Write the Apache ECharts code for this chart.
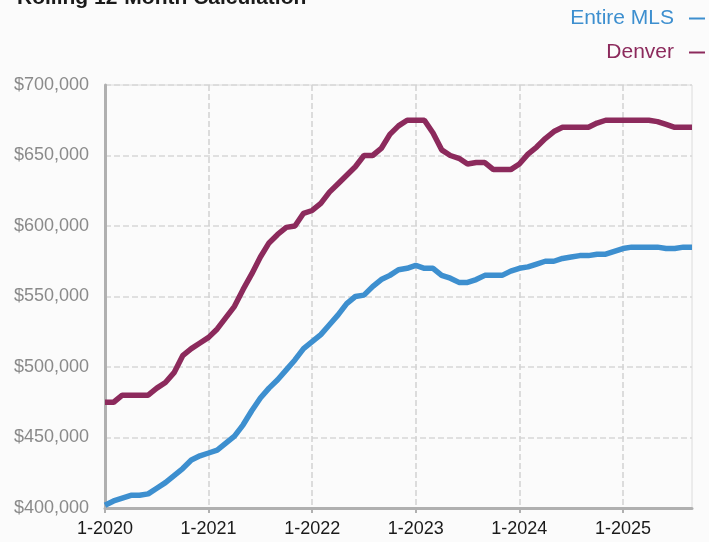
<!DOCTYPE html>
<html>
<head>
<meta charset="utf-8">
<script src="https://cdn.jsdelivr.net/npm/echarts@6/dist/echarts.min.js"></script>
<style>
  html, body { margin: 0; padding: 0; background: #fbfbfb; }
  #chart { width: 709px; height: 542px; }
</style>
</head>
<body>
<div id="chart"></div>
<script>
// months Jan 2020 .. Sep 2025, label shown only on January
var years = [2020, 2021, 2022, 2023, 2024, 2025];
var months = [];
for (var y = 0; y < years.length; y++) {
  for (var m = 1; m <= 12; m++) {
    if (years[y] === 2025 && m > 9) break;
    months.push(m + '-' + years[y]);
  }
}

// rolling 12-month median price, thousands of dollars
var entireMLS = [
  402, 405, 407, 409, 409, 410, 414, 418, 423, 428, 434, 437,
  439, 441, 446, 451, 459, 469, 478, 485, 491, 498, 505, 513,
  518, 523, 530, 537, 545, 550, 551, 557, 562, 565, 569, 570,
  572, 570, 570, 565, 563, 560, 560, 562, 565, 565, 565, 568,
  570, 571, 573, 575, 575, 577, 578, 579, 579, 580, 580, 582,
  584, 585, 585, 585, 585, 584, 584, 585, 585
];
var denver = [
  475, 475, 480, 480, 480, 480, 485, 489, 496, 508, 513, 517,
  521, 527, 535, 543, 555, 566, 578, 588, 594, 599, 600, 609,
  611, 616, 624, 630, 636, 642, 650, 650, 655, 665, 671, 675,
  675, 675, 666, 654, 650, 648, 644, 645, 645, 640, 640, 640,
  644, 651, 656, 662, 667, 670, 670, 670, 670, 673, 675, 675,
  675, 675, 675, 675, 674, 672, 670, 670, 670
];

var blue = '#3d8fcf';
var maroon = '#8c2a5c';

var chart = echarts.init(document.getElementById('chart'));

function money(v) {
  return '$' + String(v).replace(/\B(?=(\d{3})+(?!\d))/g, ',');
}

var option = {
  backgroundColor: '#fbfbfb',
  animation: false,
  title: {
    text: 'Rolling 12-Month Calculation',
    left: 12,
    top: -17,
    textStyle: { fontFamily: 'Liberation Sans', fontWeight: 'bold', fontSize: 21, color: '#1a1a1a' }
  },
  legend: [
    {
      data: [{ name: 'Entire MLS', textStyle: { color: blue } }],
      right: -1, top: 3, align: 'right',
      icon: 'rect', itemWidth: 16, itemHeight: 2, itemGap: 0,
      textStyle: { fontFamily: 'Liberation Sans', fontSize: 21, padding: [0, 10, 0, 0] }
    },
    {
      data: [{ name: 'Denver', textStyle: { color: maroon } }],
      right: -1, top: 37, align: 'right',
      icon: 'rect', itemWidth: 16, itemHeight: 2, itemGap: 0,
      textStyle: { fontFamily: 'Liberation Sans', fontSize: 21, padding: [0, 10, 0, 0] }
    }
  ],
  grid: {
    left: 105, right: 17, top: 85, bottom: 34,
    show: true, borderColor: '#dcdcdc', borderWidth: 1
  },
  xAxis: {
    type: 'category',
    data: months,
    boundaryGap: false,
    axisLine: { lineStyle: { color: '#b0b0b0', width: 3 } },
    axisTick: {
      length: 5,
      interval: function (i) { return i % 12 === 0; },
      lineStyle: { color: '#b0b0b0', width: 2 }
    },
    axisLabel: {
      interval: function (i) { return i % 12 === 0; },
      formatter: function (v) { return v.indexOf('1-') === 0 && v.length === 6 ? v : ''; },
      color: '#1a1a1a', fontFamily: 'Liberation Sans', fontSize: 18, margin: 12
    },
    splitLine: {
      show: true,
      interval: function (i) { return i % 12 === 0 && i > 0; },
      lineStyle: { color: '#d2d2d2', type: 'dashed', width: 1.5 }
    }
  },
  yAxis: {
    type: 'value',
    min: 400, max: 700, interval: 50,
    axisLine: { show: true, lineStyle: { color: '#b0b0b0', width: 3 } },
    axisTick: { show: false },
    axisLabel: {
      formatter: function (v) { return money(v * 1000); },
      color: '#8a8a8a', fontFamily: 'Liberation Sans', fontSize: 18, margin: 16
    },
    splitLine: { lineStyle: { color: '#d8d8d8', type: 'dashed', width: 1.5 } }
  },
  series: [
    {
      name: 'Entire MLS', type: 'line', data: entireMLS,
      symbol: 'none', color: blue,
      lineStyle: { width: 5.5, color: blue }
    },
    {
      name: 'Denver', type: 'line', data: denver,
      symbol: 'none', color: maroon,
      lineStyle: { width: 5.5, color: maroon }
    }
  ]
};

chart.setOption(option);
</script>
</body>
</html>
